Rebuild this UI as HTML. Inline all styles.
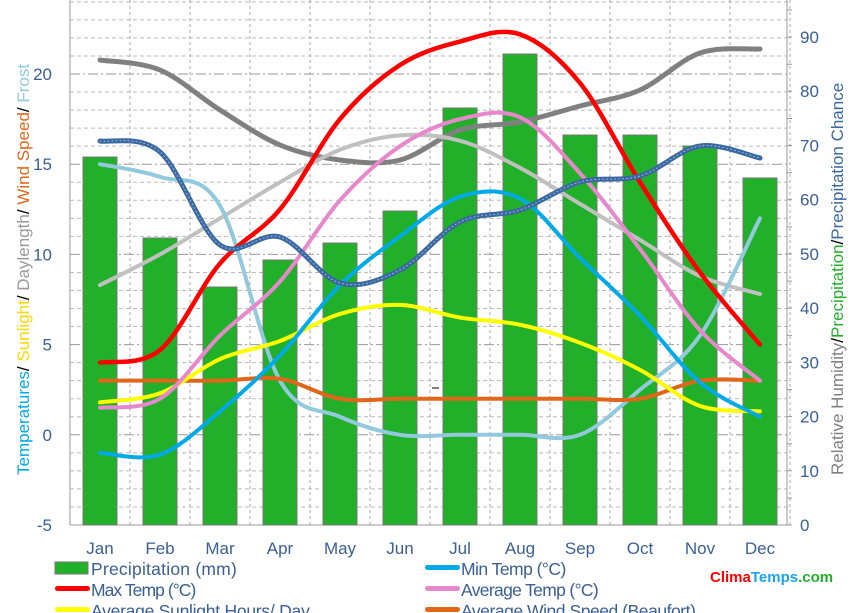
<!DOCTYPE html>
<html><head><meta charset="utf-8"><style>
body{margin:0;background:#fff;}
svg{display:block;font-family:"Liberation Sans",sans-serif;}
</style></head><body>
<svg id="s" width="851" height="613" xmlns="http://www.w3.org/2000/svg"></svg>
<script>
const s=document.getElementById('s');let h='';
const X0=70,X1=787;
const ty=v=>434.8-18.04*v, ry=v=>525-5.422*v;
const mx=i=>100+60*i;
for(let v=-5;v<=25;v++){const y=ty(v);if(y<0)continue;
 h+=`<line x1="${X0}" x2="${X1}" y1="${y}" y2="${y}" stroke="${v%5==0?'#999':'#bbb'}" stroke-width="1" stroke-dasharray="${v%5==0?'10,3,2,3':'4,3'}"/>`;}
for(let i=0;i<12;i++){const x=130+60*i;h+=`<line x1="${x}" x2="${x}" y1="0" y2="525" stroke="#aaa" stroke-dasharray="3,3"/>`;}
h+=`<line x1="${X0}" x2="${X0}" y1="0" y2="525" stroke="#999"/><line x1="${X1}" x2="${X1}" y1="0" y2="525" stroke="#999"/><line x1="${X0}" x2="${X1}" y1="525" y2="525" stroke="#999"/>`;
for(let v=-5;v<=20;v+=5)h+=`<text x="52" y="${ty(v)+6}" text-anchor="end" font-size="17" fill="#3a5f95">${v}</text>`;
for(let v=0;v<=90;v+=10){h+=`<text x="800" y="${ry(v)+6}" font-size="17" fill="#3a5f95">${v}</text><line x1="${X1}" x2="${X1+5}" y1="${ry(v)}" y2="${ry(v)}" stroke="#999"/><line x1="${X1}" x2="${X1+5}" y1="${ry(v)-27}" y2="${ry(v)-27}" stroke="#999"/>`;}
const bt=[157,238,287,260,243,211,108,54,135,135,146,178];
bt.forEach((t,i)=>h+=`<rect x="${mx(i)-17}" y="${t}" width="34" height="${525-t}" fill="#22b02a" stroke="#777" stroke-width="1"/>`);
const mon=['Jan','Feb','Mar','Apr','May','Jun','Jul','Aug','Sep','Oct','Nov','Dec'];
mon.forEach((m,i)=>h+=`<text x="${mx(i)}" y="554" text-anchor="middle" font-size="17" fill="#3a5f95">${m}</text>`);
function path(ys,col,w,extra){const p=ys.map((y,i)=>[mx(i),y]);let d=`M${p[0][0]},${p[0][1]}`;
 for(let i=0;i<p.length-1;i++){const a=p[Math.max(i-1,0)],b=p[i],c=p[i+1],e=p[Math.min(i+2,p.length-1)];
 d+=` C${b[0]+(c[0]-a[0])/6},${b[1]+(c[1]-a[1])/6} ${c[0]-(e[0]-b[0])/6},${c[1]-(e[1]-b[1])/6} ${c[0]},${c[1]}`;}
 h+=`<path d="${d}" fill="none" stroke="${col}" stroke-width="${w}" stroke-linecap="round" ${extra||''}/>`;}
const T=a=>a.map(ty);
path([60,70,110,145,160,160,130,122,106,90,53,49],'#808080',5);
path(T([8.3,10,12,14,15.8,16.6,16.3,14.8,12.8,10.8,8.8,7.8]),'#c0c0c0',4);
path(T([15,14.3,12.7,3,1,0,0,0,0,2.5,5.5,12]),'#92c9dc',4);
path(T([3,3,3,3.1,2,2,2,2,2,2,3,3]),'#e0661a',4);
path(T([1.8,2.3,4.2,5.2,6.7,7.2,6.5,6.1,5.1,3.6,1.6,1.3]),'#ffff00',4);
path(T([-1,-1.1,1.3,4.4,8.3,11,13.2,13.1,9.8,6.6,2.9,1]),'#00aae8',4);
path(T([1.5,2,5.5,8.5,13,16,17.5,17.6,14.5,10.3,5.8,3]),'#e888cc',4);
path(T([4,4.7,9.5,12.5,17.5,20.5,21.8,22.2,19.5,14,9,5]),'#ff0000',4.5);
path([141,152,245,237,283,270,222,210,182,176,146,158],'#3a68a0',5);
path([141,152,245,237,283,270,222,210,182,176,146,158],'#9bb8dc',1,'stroke-dasharray="1,3"');
h+=`<line x1="432" x2="439" y1="388" y2="388" stroke="#000"/>`;
h+=`<text transform="translate(29,475) rotate(-90)" font-size="17"><tspan fill="#00aae8">Temperatures</tspan><tspan fill="#000">/ </tspan><tspan fill="#ffd800">Sunlight</tspan><tspan fill="#000">/ </tspan><tspan fill="#999">Daylength</tspan><tspan fill="#000">/ </tspan><tspan fill="#e0661a">Wind Speed</tspan><tspan fill="#000">/ </tspan><tspan fill="#92c9dc">Frost</tspan></text>`;
h+=`<text transform="translate(843,475) rotate(-90)" font-size="17"><tspan fill="#808080">Relative Humidity</tspan><tspan fill="#000">/</tspan><tspan fill="#22b02a">Precipitation</tspan><tspan fill="#000">/</tspan><tspan fill="#3a68a0">Precipitation Chance</tspan></text>`;
const L=[[55,575,'#22b02a','Precipitation (mm)',1],[425,575,'#00aae8','Min Temp (°C)'],[55,596,'#ff0000','Max Temp (°C)'],[425,596,'#e888cc','Average Temp (°C)'],[55,617,'#ffff00','Average Sunlight Hours/ Day'],[425,617,'#e0661a','Average Wind Speed (Beaufort)']];
L.forEach(([x,y,c,t,b])=>{h+=b?`<rect x="${x}" y="${y-13}" width="33" height="12" fill="${c}" stroke="#777"/>`:`<rect x="${x}" y="${y-10}" width="35" height="5" rx="2.5" fill="${c}"/>`;
 h+=`<text x="${x+36}" y="${y}" font-size="17.5" fill="#3a5f95" textLength="${t.length*8.1}">${t}</text>`;});
h+=`<text x="710" y="582" font-size="15" font-weight="bold"><tspan fill="#ff0000">Clima</tspan><tspan fill="#1aa3e8">Temps</tspan><tspan fill="#22b02a">.com</tspan></text>`;
s.innerHTML=h;
</script>
</body></html>
